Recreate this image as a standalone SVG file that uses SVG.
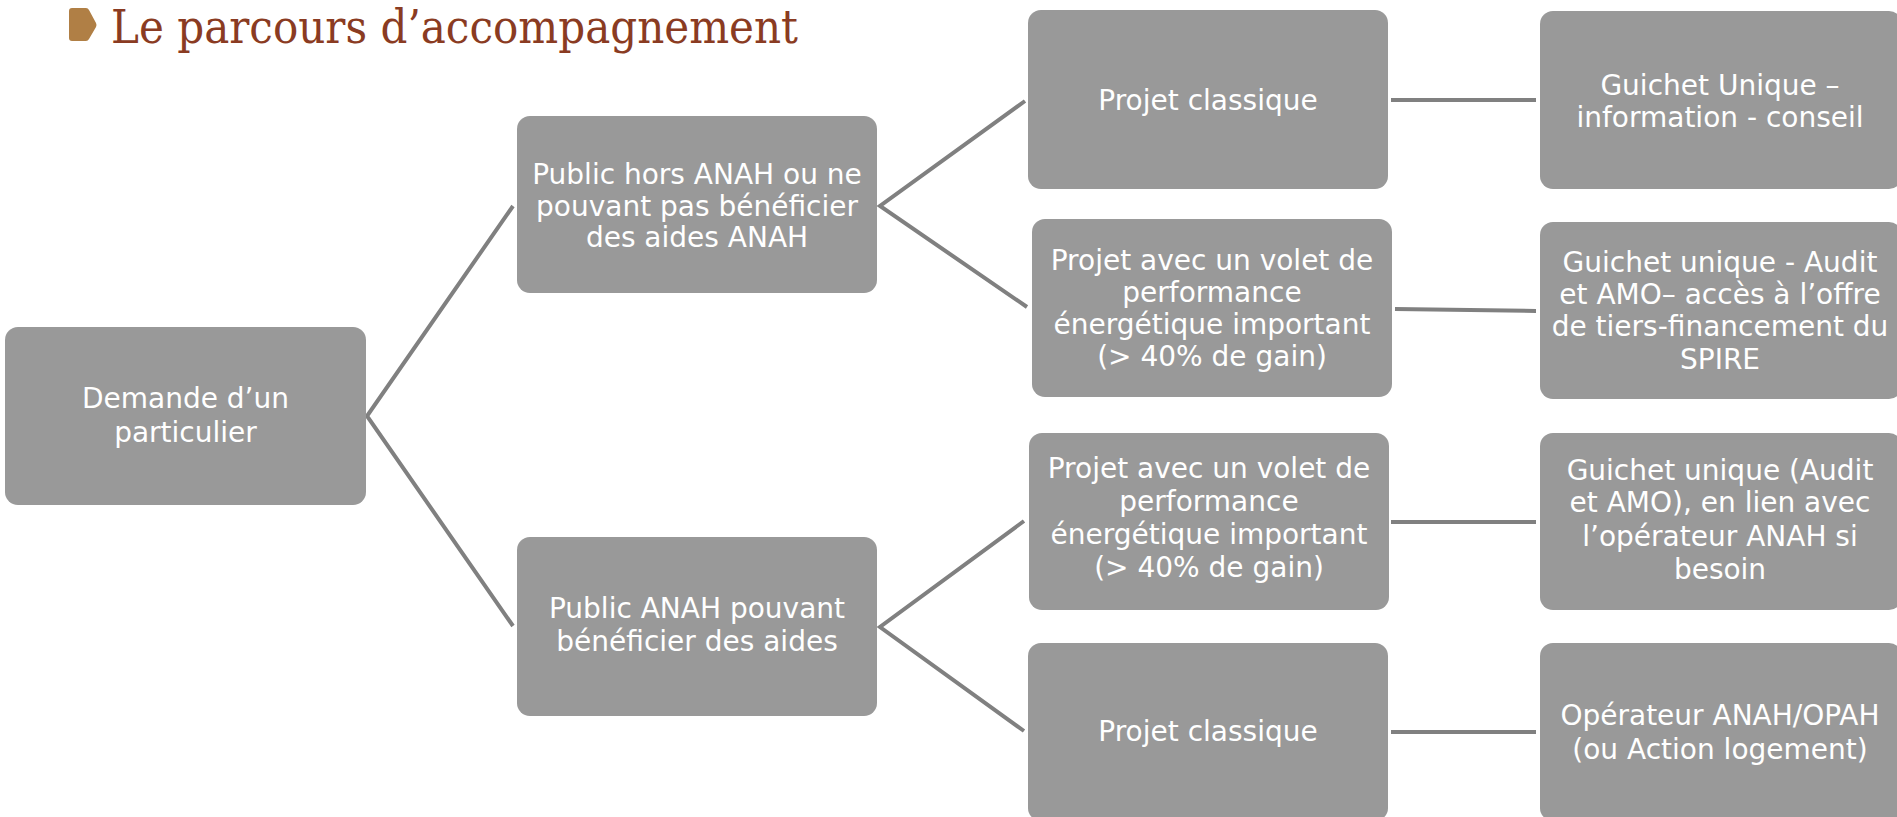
<svg xmlns="http://www.w3.org/2000/svg" width="1897" height="817" viewBox="0 0 1897 817">
<style>
.box{fill:#999999;}
.t{font-family:"DejaVu Sans","Liberation Sans",sans-serif;font-size:28px;fill:#ffffff;text-anchor:middle;}
.c{fill:none;stroke:#808080;stroke-width:4;stroke-linejoin:miter;}
.title{font-family:"DejaVu Serif","Liberation Serif",serif;font-size:46px;fill:#8a3b22;}
</style>
<rect width="1897" height="817" fill="#ffffff"/>
<g id="title">
<path d="M72 8 L86 8 Q88 8 89 10 L96 23 Q97 25 96 27 L89 39 Q88 41 86 41 L72 41 Q69 41 69 38 L69 11 Q69 8 72 8 Z" fill="#b07f45"/>
<text class="title" x="111" y="43" textLength="687" lengthAdjust="spacingAndGlyphs">Le parcours d’accompagnement</text>
</g>
<g id="connectors">
<polyline class="c" points="513,206 367,416 513,626"/>
<polyline class="c" points="1025,101 880,206 1027,307"/>
<polyline class="c" points="1024,521 880,627 1024,731"/>
<line class="c" x1="1391" y1="100" x2="1536" y2="100"/>
<line class="c" x1="1395" y1="309" x2="1536" y2="311"/>
<line class="c" x1="1391" y1="522" x2="1536" y2="522"/>
<line class="c" x1="1391" y1="732" x2="1536" y2="732"/>
</g>
<g id="demande">
<rect class="box" x="5" y="327" width="361" height="178" rx="13"/>
<text class="t" x="185.5" y="408">Demande d’un</text>
<text class="t" x="185.5" y="442">particulier</text>
</g>
<g id="public-hors-anah">
<rect class="box" x="517" y="116" width="360" height="177" rx="13"/>
<text class="t" x="697" y="184">Public hors ANAH ou ne</text>
<text class="t" x="697" y="216">pouvant pas bénéficier</text>
<text class="t" x="697" y="247">des aides ANAH</text>
</g>
<g id="public-anah">
<rect class="box" x="517" y="537" width="360" height="179" rx="13"/>
<text class="t" x="697" y="618">Public ANAH pouvant</text>
<text class="t" x="697" y="651">bénéficier des aides</text>
</g>
<g id="projet-classique-1">
<rect class="box" x="1028" y="10" width="360" height="179" rx="13"/>
<text class="t" x="1208" y="110">Projet classique</text>
</g>
<g id="projet-volet-1">
<rect class="box" x="1032" y="219" width="360" height="178" rx="13"/>
<text class="t" x="1212" y="270">Projet avec un volet de</text>
<text class="t" x="1212" y="302">performance</text>
<text class="t" x="1212" y="334">énergétique important</text>
<text class="t" x="1212" y="366">(&gt; 40% de gain)</text>
</g>
<g id="projet-volet-2">
<rect class="box" x="1029" y="433" width="360" height="177" rx="13"/>
<text class="t" x="1209" y="478">Projet avec un volet de</text>
<text class="t" x="1209" y="511">performance</text>
<text class="t" x="1209" y="544">énergétique important</text>
<text class="t" x="1209" y="577">(&gt; 40% de gain)</text>
</g>
<g id="projet-classique-2">
<rect class="box" x="1028" y="643" width="360" height="178" rx="13"/>
<text class="t" x="1208" y="741">Projet classique</text>
</g>
<g id="guichet-unique-info">
<rect class="box" x="1540" y="11" width="362" height="178" rx="13"/>
<text class="t" x="1720" y="95">Guichet Unique –</text>
<text class="t" x="1720" y="127">information - conseil</text>
</g>
<g id="guichet-unique-audit">
<rect class="box" x="1540" y="222" width="362" height="177" rx="13"/>
<text class="t" x="1720" y="272">Guichet unique - Audit</text>
<text class="t" x="1720" y="304">et AMO– accès à l’offre</text>
<text class="t" x="1720" y="336">de tiers-financement du</text>
<text class="t" x="1720" y="369">SPIRE</text>
</g>
<g id="guichet-unique-anah">
<rect class="box" x="1540" y="433" width="362" height="177" rx="13"/>
<text class="t" x="1720" y="480">Guichet unique (Audit</text>
<text class="t" x="1720" y="512">et AMO), en lien avec</text>
<text class="t" x="1720" y="546">l’opérateur ANAH si</text>
<text class="t" x="1720" y="579">besoin</text>
</g>
<g id="operateur">
<rect class="box" x="1540" y="643" width="362" height="178" rx="13"/>
<text class="t" x="1720" y="725">Opérateur ANAH/OPAH</text>
<text class="t" x="1720" y="759">(ou Action logement)</text>
</g>
</svg>
